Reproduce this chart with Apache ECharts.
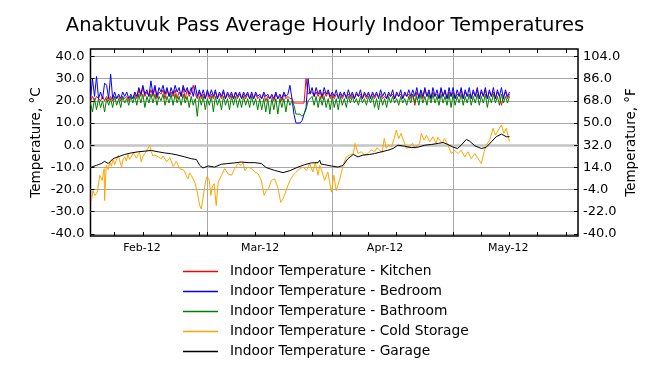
<!DOCTYPE html>
<html><head><meta charset="utf-8">
<script src="https://cdn.jsdelivr.net/npm/echarts@6/dist/echarts.min.js"></script>
<style>html,body{margin:0;padding:0;background:#fff}#c{width:650px;height:375px}</style>
</head><body><div id="c"></div>
<script>
// x values are days since 2012-02-01
const monthStartDays = [29, 60, 90];
const tuesdayDays = [6, 13, 20, 27, 34, 41, 48, 55, 62, 69, 76, 83, 97, 104, 111, 118];
const monthLabelDays = [12.8, 42.1, 73.1, 103.7];
const monthLabels = ['Feb-12', 'Mar-12', 'Apr-12', 'May-12'];
const celsiusTicks = [-40, -30, -20, -10, 0, 10, 20, 30, 40];
const fahrenheitTicks = [-40, -22, -4, 14, 32, 50, 68, 86, 104];
const seriesNames = ['Indoor Temperature - Kitchen', 'Indoor Temperature - Bedroom', 'Indoor Temperature - Bathroom', 'Indoor Temperature - Cold Storage', 'Indoor Temperature - Garage'];

const indoorStepDays = 0.5;
const kitchen = [
20,22,20,22,21,20,22,20,22,20, 22,20,22,21,22,20,22,21,22,20,
22,21,23,21,25,22,26,22,24,22, 25,22,26,21,24,23,25,21,25,22,
24,22,25,21,24,22,26,21,25,22, 24,27,23,21,24,21,23,21,24,21,
23,21,24,21,23,21,24,21,23,21, 23,21,24,21,23,21,23,21,23,21,
23,21,23,21,22,21,23,20,22,21, 22,20,23,21,22,20,23,21,22,21,
21,19,19,19,19,19,19,30,23,24, 24,22,24,22,24,21,24,22,24,21,
23,21,23,22,23,21,23,22,23,21, 23,21,23,22,23,21,23,21,23,22,
23,21,23,22,23,21,22,21,23,22, 23,21,23,22,23,21,23,22,23,21,
23,18,24,22,24,21,25,22,24,21, 24,22,23,21,25,22,24,21,24,22,
24,21,23,22,25,21,24,22,23,21, 24,22,25,21,24,22,25,21,24,22,
24,21,24,22,18,22,24,21,23];
const bedroom = [
21,30,22,31,21,24,21,28,27,21, 32,21,24,21,23,21,24,22,24,21,
23,21,24,22,26,23,27,23,25,22, 29,23,27,22,26,24,27,23,26,22,
26,23,27,24,26,22,27,24,26,23, 26,22,27,22,25,22,25,21,25,22,
25,22,25,21,24,22,25,21,24,22, 24,21,24,22,24,21,24,22,24,21,
24,21,24,22,23,21,24,22,23,21, 23,21,24,21,23,21,24,22,23,27,
21,14,10,10,10,11,14,17,30,23, 26,22,26,23,25,22,26,23,25,22,
24,22,25,21,24,22,24,21,25,22, 24,21,24,22,25,21,24,22,24,21,
24,22,24,21,25,22,24,21,24,22, 25,21,24,22,25,21,24,22,25,22,
25,22,26,21,25,22,26,22,25,21, 26,22,25,21,26,22,25,21,26,22,
26,21,25,22,26,21,25,22,26,21, 25,22,26,21,25,22,26,21,25,22,
26,21,25,22,26,21,25,22,24];
const bathroom = [
19,15,21,16,21,17,20,15,21,18, 21,17,22,18,21,17,22,19,21,18,
22,19,22,18,23,19,23,17,22,19, 23,19,23,18,22,20,23,18,22,19,
23,18,23,19,22,18,23,19,22,17, 22,18,21,13,22,18,22,16,21,18,
22,15,22,18,21,16,22,18,21,16, 22,18,22,17,21,17,22,18,21,17,
22,18,21,16,21,16,21,15,21,14, 21,16,21,14,21,17,21,15,21,18,
20,18,14,14,14,13,14,16,20,21, 22,18,22,17,22,18,22,17,21,16,
22,17,21,16,22,18,21,17,22,19, 22,19,21,18,22,19,21,18,22,19,
22,17,21,16,22,18,21,17,22,19, 22,19,21,18,22,19,21,18,22,19,
23,19,22,18,23,19,22,18,23,19, 23,19,22,18,23,19,22,18,23,17,
23,18,22,19,23,18,22,19,23,18, 22,19,23,18,22,19,23,17,22,19,
23,19,22,18,23,19,22,19,22];

const coldStorageDays = [
0.2,0.6,1.1,1.7,2.3,2.9,3.4,3.5,3.9,4.4,4.8,5.2,5.6,6.0,6.4,6.9,7.3,7.7,8.1,8.5,8.9,9.3,9.7,10.1,10.6,11.0,11.4,11.8,12.2,12.6,
13.0,13.5,13.9,14.3,14.7,15.1,15.5,16.0,16.4,16.8,17.2,17.6,18.0,18.4,18.9,19.3,19.7,20.1,20.5,20.9,21.3,21.7,22.2,22.6,23.0,23.4,23.8,24.2,24.6,25.0,
25.9,26.5,27.1,27.5,
27.9,28.4,28.8,29.4,29.9,30.2,30.7,31.2,31.7,32.5,33.3,34.1,35.0,35.8,36.6,37.4,37.9,38.3,39.1,39.9,
40.8,41.6,42.4,43.1,43.6,44.2,44.9,45.7,46.6,47.2,47.8,48.4,49.0,49.5,50.3,51.1,51.9,52.8,53.6,54.4,
55.2,55.8,56.5,56.9,57.5,58.1,58.9,59.8,60.4,61.0,61.9,62.7,63.5,64.3,65.2,65.7,66.4,67.2,68.1,68.9,
69.7,70.5,71.1,71.8,72.4,72.9,73.4,74.0,74.7,75.3,75.9,76.5,77.1,77.8,78.4,79.2,79.9,80.5,81.1,81.7,82.1,82.8,83.4,84.2,85.0,85.8,86.2,86.7,87.3,
87.9,88.7,89.6,90.4,91.2,92.0,92.9,93.7,94.5,95.4,96.2,97.0,97.7,98.2,99.1,99.9,100.5,101.2,102.0,102.6,
103.2,104.0];
const coldStorageTemps = [
-25.8,-20.5,-22.7,-21.2,-13.6,-15.9,-10.6,-25.0,-9.1,-11.0,-7.6,-9.5,-6.1,-8.8,-6.8,-4.6,-5.3,-9.9,-6.5,-5.3,-7.2,-4.2,-6.4,-5.3,-3.4,-3.8,-5.9,-4.2,-3.2,-7.6,
-5.0,-3.8,-2.6,-3.0,0.0,-3.0,-4.9,-4.5,-3.6,-5.3,-4.4,-6.1,-4.8,-5.7,-7.5,-6.8,-5.6,-7.6,-9.6,-9.1,-7.4,-8.3,-10.8,-9.9,-11.0,-12.1,-13.8,-15.2,-12.6,-13.6,
-16.7,-21.2,-27.3,-28.8,
-24.2,-18.2,-14.4,-15.2,-22.7,-18.9,-17.4,-27.3,-16.7,-13.6,-10.6,-12.9,-13.6,-10.6,-8.3,-9.1,-7.9,-11.4,-9.9,-10.6,
-12.1,-12.9,-15.9,-22.7,-20.5,-19.7,-15.9,-15.2,-19.7,-25.8,-24.2,-21.2,-18.2,-15.9,-13.6,-12.1,-10.6,-9.9,-11.4,-8.3,
-12.1,-7.9,-13.6,-9.1,-12.1,-15.9,-12.1,-21.2,-13.6,-20.5,-15.2,-9.1,-5.3,-4.5,-3.8,0.8,-3.8,-3.0,-4.5,-3.8,
-2.1,-3.0,-1.2,-2.3,-3.4,3.0,-1.5,0.2,-0.8,2.6,6.8,3.0,5.3,1.5,-1.5,-0.8,0.9,-1.5,-0.2,0.8,5.3,2.3,4.5,1.5,3.8,0.8,3.6,2.3,0.9,
3.0,0.0,-3.8,-2.3,-3.8,-2.3,-5.3,-3.0,-6.1,-3.8,-6.1,-8.3,-3.0,0.0,2.3,7.6,4.5,6.8,9.1,5.3,
7.6,1.5];

const garageDays = [
0.2,1.5,2.7,3.5,4.4,5.6,6.8,8.5,10.1,11.8,13.5,15.1,16.8,18.4,20.1,21.7,23.4,25.0,26.3,27.1,
27.9,29.2,30.8,32.5,34.1,35.8,37.4,39.1,40.8,42.4,43.6,45.7,47.8,49.5,51.5,53.2,54.8,56.5,56.9,57.2,
58.1,59.8,61.4,62.7,63.9,65.2,66.4,67.6,69.3,70.5,72.2,73.8,75.1,76.3,78.0,79.6,81.3,83.0,84.6,86.3,
87.5,88.7,89.9,91.1,92.0,93.3,94.1,95.4,97.0,98.2,99.5,100.7,102.0,103.2,104.0];
const garageTemps = [
-9.9,-9.1,-8.3,-7.3,-8.3,-6.1,-5.3,-4.2,-3.5,-3.0,-2.7,-2.4,-3.0,-3.5,-3.9,-4.5,-5.3,-6.1,-6.5,-9.1,
-10.3,-9.4,-9.9,-8.6,-8.3,-8.0,-7.6,-7.9,-7.9,-8.3,-10.1,-11.4,-12.4,-11.5,-9.9,-8.8,-8.0,-7.9,-6.8,-8.5,
-8.8,-9.4,-9.9,-9.1,-6.1,-4.2,-5.3,-4.5,-4.2,-3.8,-3.0,-2.3,-1.5,0.0,-0.5,-1.1,-0.9,0.0,0.3,0.8,
1.2,0.3,-0.8,-1.5,0.0,2.6,1.8,-0.3,-1.5,-1.0,1.5,3.8,5.0,3.8,3.8];

const FONT = 'DejaVu Sans';
const colors = ['#ff0000', '#0000ff', '#008000', '#ffa500', '#000000'];
const X_MIN = 0, X_MAX = 121, Y_MIN = -41.0, Y_MAX = 43.4;
const indoorPairs = arr => arr.map((v, i) => [i * indoorStepDays, v]);
const zip = (xs, ys) => xs.map((x, i) => [x, ys[i]]);
const seriesData = [indoorPairs(kitchen), indoorPairs(bedroom), indoorPairs(bathroom),
  zip(coldStorageDays, coldStorageTemps), zip(garageDays, garageTemps)];
const xTickDays = monthStartDays.concat(tuesdayDays).sort((a, b) => a - b);

const gridLines = monthStartDays.map(d => ({ xAxis: d, lineStyle: { color: '#a8a8a8', width: 1, type: 'solid' } }))
  .concat(celsiusTicks.filter(t => t !== 0).map(t => ({ yAxis: t, lineStyle: { color: '#a8a8a8', width: 1, type: 'solid' } })))
  .concat([{ yAxis: 0, lineStyle: { color: '#c4c4c4', width: 2.5, type: 'solid' } }]);

// inward tick marks (4 px long) drawn as short segments on the frame
const TICK_X = 4 / 4.03, TICK_Y = 4 / 2.214;
const tickSegments = []
  .concat(xTickDays.map(d => [{ coord: [d, Y_MIN] }, { coord: [d, Y_MIN + TICK_Y] }]))
  .concat(xTickDays.map(d => [{ coord: [d, Y_MAX] }, { coord: [d, Y_MAX - TICK_Y] }]))
  .concat(celsiusTicks.map(t => [{ coord: [X_MIN, t] }, { coord: [X_MIN + TICK_X, t] }]))
  .concat(celsiusTicks.map(t => [{ coord: [X_MAX, t] }, { coord: [X_MAX - TICK_X, t] }]));

const chart = echarts.init(document.getElementById('c'), null, { renderer: 'canvas' });
chart.setOption({
  animation: false,
  backgroundColor: '#ffffff',
  title: {
    text: 'Anaktuvuk Pass Average Hourly Indoor Temperatures',
    left: 'center', top: 16, padding: 0,
    textStyle: { fontFamily: FONT, fontSize: 19.5, fontWeight: 'normal', color: '#000' }
  },
  grid: { left: 90.5, right: 72, top: 49, bottom: 139, show: true, borderColor: '#000', borderWidth: 1.5, backgroundColor: 'transparent' },
  legend: {
    data: seriesNames, orient: 'vertical', left: 178, top: 259,
    itemWidth: 35, itemHeight: 1.5, icon: 'rect', itemGap: 5,
    textStyle: { fontFamily: FONT, fontSize: 13.8, color: '#000', lineHeight: 15, padding: [0, 0, 0, 7] }
  },
  xAxis: [
    {
      type: 'value', min: X_MIN, max: X_MAX, position: 'bottom',
      axisLine: { show: false, onZero: false }, splitLine: { show: false }, axisTick: { show: false },
      axisLabel: {
        customValues: monthLabelDays, fontFamily: FONT, fontSize: 11, color: '#000', margin: 7,
        formatter: v => {
          let best = 0;
          monthLabelDays.forEach((d, i) => { if (Math.abs(d - v) < Math.abs(monthLabelDays[best] - v)) best = i; });
          return monthLabels[best];
        }
      }
    }
  ],
  yAxis: [
    {
      type: 'value', min: Y_MIN, max: Y_MAX, position: 'left',
      name: 'Temperature, °C', nameLocation: 'middle', nameGap: 47, nameMoveOverlap: false,
      nameTextStyle: { fontFamily: FONT, fontSize: 13.5, color: '#000' },
      axisLine: { show: false, onZero: false }, splitLine: { show: false }, axisTick: { show: false },
      axisLabel: { customValues: celsiusTicks, fontFamily: FONT, fontSize: 13, color: '#000', margin: 6, formatter: v => v.toFixed(1) }
    },
    {
      type: 'value', min: Y_MIN * 1.8 + 32, max: Y_MAX * 1.8 + 32, position: 'right',
      name: 'Temperature, °F', nameLocation: 'middle', nameGap: 46, nameMoveOverlap: false,
      nameTextStyle: { fontFamily: FONT, fontSize: 13.5, color: '#000' },
      axisLine: { show: false, onZero: false }, splitLine: { show: false }, axisTick: { show: false },
      axisLabel: { customValues: fahrenheitTicks, fontFamily: FONT, fontSize: 13, color: '#000', margin: 5, formatter: v => v.toFixed(1) }
    }
  ],
  series: [{
    type: 'line', name: '_grid', data: [], z: 1, silent: true,
    markLine: { silent: true, z: 1, symbol: 'none', label: { show: false }, animation: false, data: gridLines }
  }, {
    type: 'line', name: '_ticks', data: [], z: 20, silent: true,
    markLine: { silent: true, z: 20, symbol: 'none', label: { show: false }, animation: false,
      lineStyle: { color: '#000', width: 1, type: 'solid' }, data: tickSegments }
  }].concat(seriesNames.map((name, k) => ({
    type: 'line', name, data: seriesData[k], xAxisIndex: 0, yAxisIndex: 0,
    showSymbol: false, symbol: 'none', z: 2 + k,
    lineStyle: { color: colors[k], width: 1 }, itemStyle: { color: colors[k] }
  })))
});
</script></body></html>
